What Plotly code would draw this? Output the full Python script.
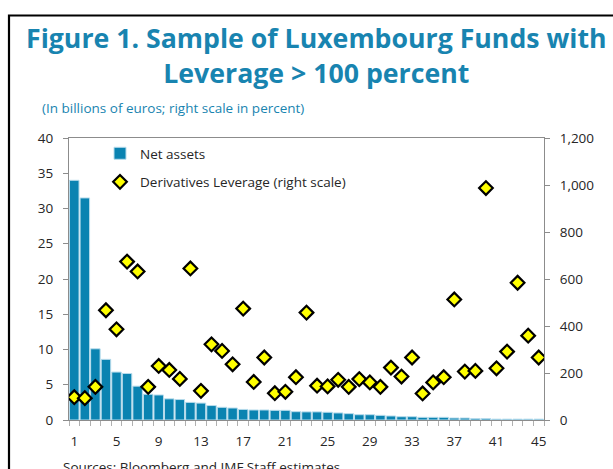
import plotly.graph_objects as go

funds = list(range(1, 46))
net_assets = [34.0, 31.5, 10.1, 8.6, 6.8, 6.6, 4.8, 3.65, 3.55, 3.0,
              2.9, 2.5, 2.4, 2.05, 1.8, 1.7, 1.5, 1.42, 1.42, 1.37,
              1.37, 1.18, 1.15, 1.15, 1.1, 1.0, 0.9, 0.75, 0.75, 0.66,
              0.57, 0.47, 0.47, 0.38, 0.38, 0.38, 0.28, 0.28, 0.2, 0.2,
              0.12, 0.12, 0.12, 0.12, 0.12]
leverage = [97, 93, 141, 467, 386, 674, 632, 141, 230, 213,
            175, 645, 124, 322, 294, 237, 474, 162, 266, 114,
            120, 182, 457, 146, 143, 171, 141, 174, 160, 141,
            223, 185, 266, 113, 160, 182, 513, 206, 209, 987,
            220, 291, 584, 359, 266]
x_ticks = [1, 5, 9, 13, 17, 21, 25, 29, 33, 37, 41, 45]

BLUE = "#0a83b1"
TXT = "#262626"
AX = "#8c8c8c"

fig = go.Figure()
fig.add_trace(go.Bar(
    x=funds, y=net_assets, name="Net assets",
    marker=dict(color=BLUE, line=dict(color="#b8dcec", width=1)),
    legendgroup="a",
))
fig.add_trace(go.Scatter(
    x=funds, y=leverage, name="Derivatives Leverage (right scale)",
    mode="markers", yaxis="y2",
    marker=dict(symbol="diamond", size=10.5, color="#ffff00",
                line=dict(color="black", width=2.2)),
    legendgroup="b",
))

fig.update_layout(
    width=613, height=469,
    margin=dict(l=69, r=69, t=138, b=49),
    paper_bgcolor="white", plot_bgcolor="white",
    font=dict(family="Open Sans, Noto Sans, sans-serif", size=13.5, color=TXT),
    bargap=0.1,
    showlegend=True,
    legend=dict(x=(100 - 69) / 475, y=1.0, xanchor="left", yanchor="top",
                bgcolor="rgba(0,0,0,0)", font=dict(size=13.5, color=TXT),
                traceorder="grouped", tracegroupgap=8),
    xaxis=dict(range=[0.5, 45.5], tickmode="array", tickvals=x_ticks,
               ticks="outside", ticklen=9, tickcolor="rgba(0,0,0,0)",
               showline=True, linecolor=AX, linewidth=1, mirror=True,
               showgrid=False, zeroline=False,
               minor=dict(tickmode="linear", tick0=0.5, dtick=1,
                          ticks="outside", ticklen=5, tickcolor="#b0b0b0",
                          showgrid=False)),
    yaxis=dict(range=[0, 40], dtick=5, ticks="outside", ticklen=5,
               tickcolor=AX, showline=True, linecolor=AX, linewidth=1,
               showgrid=False, zeroline=False, ticklabelstandoff=7),
    yaxis2=dict(range=[0, 1200], dtick=200, overlaying="y", side="right",
                tickformat=",", ticks="outside", ticklen=5, tickcolor=AX,
                showline=True, linecolor=AX, linewidth=1,
                showgrid=False, zeroline=False, ticklabelstandoff=7),
)

fig.add_annotation(
    text="<b>Figure 1. Sample of Luxembourg Funds with<br>Leverage &gt; 100 percent</b>",
    xref="paper", yref="paper", x=(316 - 69) / 475, y=(420 - 55) / 282,
    xanchor="center", yanchor="middle", showarrow=False, align="center",
    font=dict(size=26.7, color="#1884b0", family="Open Sans, sans-serif"),
)
fig.add_annotation(
    text="(In billions of euros; right scale in percent)",
    xref="paper", yref="paper", x=(40 - 69) / 475, y=(420 - 108) / 282,
    xanchor="left", yanchor="middle", showarrow=False,
    font=dict(size=13.5, color="#1884b0"),
)
fig.add_annotation(
    text="Sources: Bloomberg and IMF Staff estimates.",
    xref="paper", yref="paper", x=(61 - 69) / 475, y=(420 - 467) / 282,
    xanchor="left", yanchor="middle", showarrow=False,
    font=dict(size=13.5, color=TXT),
)
fig.add_shape(type="rect", xref="paper", yref="paper",
              x0=(9 - 69) / 475, x1=(640 - 69) / 475,
              y0=(420 - 500) / 282, y1=(420 - 15.5) / 282,
              line=dict(color="black", width=2.2), fillcolor="rgba(0,0,0,0)")

fig.write_html("out.html", config={"displayModeBar": False},
               post_script="document.body.style.margin='0';document.body.style.overflow='hidden';")
